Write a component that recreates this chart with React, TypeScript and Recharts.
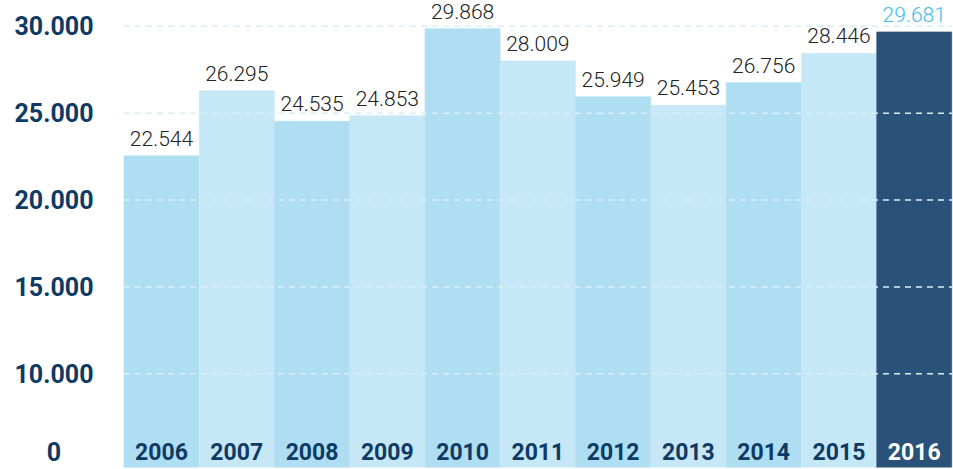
import React from 'react';
import { BarChart, Bar, XAxis, YAxis, Cell, LabelList, ReferenceLine } from 'recharts';

const YEARS = ['2006', '2007', '2008', '2009', '2010', '2011', '2012', '2013', '2014', '2015', '2016'];
const VISITORS = [22544, 26295, 24535, 24853, 29868, 28009, 25949, 25453, 26756, 28446, 29681];
// the axis starts around 4.600; the bottom label reads "0"
const Y_TICKS = [5510, 10000, 15000, 20000, 25000, 30000];
const Y_TICK_LABELS = ['0', '10.000', '15.000', '20.000', '25.000', '30.000'];
const GRID_VALUES = [10000, 15000, 20000, 25000, 30000];

const LIGHT = ['#afdef2', '#c6e7f6'];
const HIGHLIGHT = '#2a5177';
const NAVY = '#0e3a63';

const fmt = (v: number) => String(v).replace(/\B(?=(\d{3})+(?!\d))/g, '.');

const data = YEARS.map((year, i) => ({ year, value: VISITORS[i] }));
const last = data.length - 1;

const YTick = (props: any) => {
  const { x, y, payload } = props;
  const idx = Y_TICKS.indexOf(payload.value);
  return (
    <text x={x - 70} y={y} dy={9} textAnchor="middle" fill={NAVY}
      style={{ fontFamily: 'Roboto', fontWeight: 700, fontSize: 25 }}>
      {Y_TICK_LABELS[idx]}
    </text>
  );
};

const ValueLabel = (props: any) => {
  const { x, y, width, value, index } = props;
  return (
    <text x={x + width / 2} y={y - 10} textAnchor="middle"
      fill={index === last ? '#3dbde8' : '#222'}
      style={{ fontFamily: 'Roboto', fontWeight: 300, fontSize: 21 }}>
      {fmt(value)}
    </text>
  );
};

const YearLabel = (props: any) => {
  const { x, y, width, height, value, index } = props;
  return (
    <text x={x + width / 2} y={y + height - 8} textAnchor="middle"
      fill={index === last ? '#fff' : NAVY}
      style={{ fontFamily: 'Roboto', fontWeight: 700, fontSize: 23 }}>
      {value}
    </text>
  );
};

export default function App() {
  return (
    <div style={{ position: 'absolute', left: 0, top: 0, background: '#fff' }}>
      <BarChart width={953} height={469} data={data}
        margin={{ top: 9, right: 1, bottom: 1.5, left: 0 }} barCategoryGap={0}>
        <XAxis dataKey="year" hide />
        <YAxis width={124} domain={[4600, 31000]} ticks={Y_TICKS} allowDataOverflow
          axisLine={false} tickLine={false} tickSize={0} tickMargin={0} tick={<YTick />} />
        <Bar dataKey="value" isAnimationActive={false}>
          {data.map((d, i) => {
            const c = i === last ? HIGHLIGHT : LIGHT[i % 2];
            return <Cell key={d.year} fill={c} stroke={c} strokeWidth={0.6} />;
          })}
          <LabelList dataKey="value" content={<ValueLabel />} />
          <LabelList dataKey="year" content={<YearLabel />} />
        </Bar>
        {GRID_VALUES.map(v => (
          <ReferenceLine key={v} y={v} stroke="#d8eef8" strokeWidth={1.5} strokeDasharray="6 5" />
        ))}
      </BarChart>
    </div>
  );
}
